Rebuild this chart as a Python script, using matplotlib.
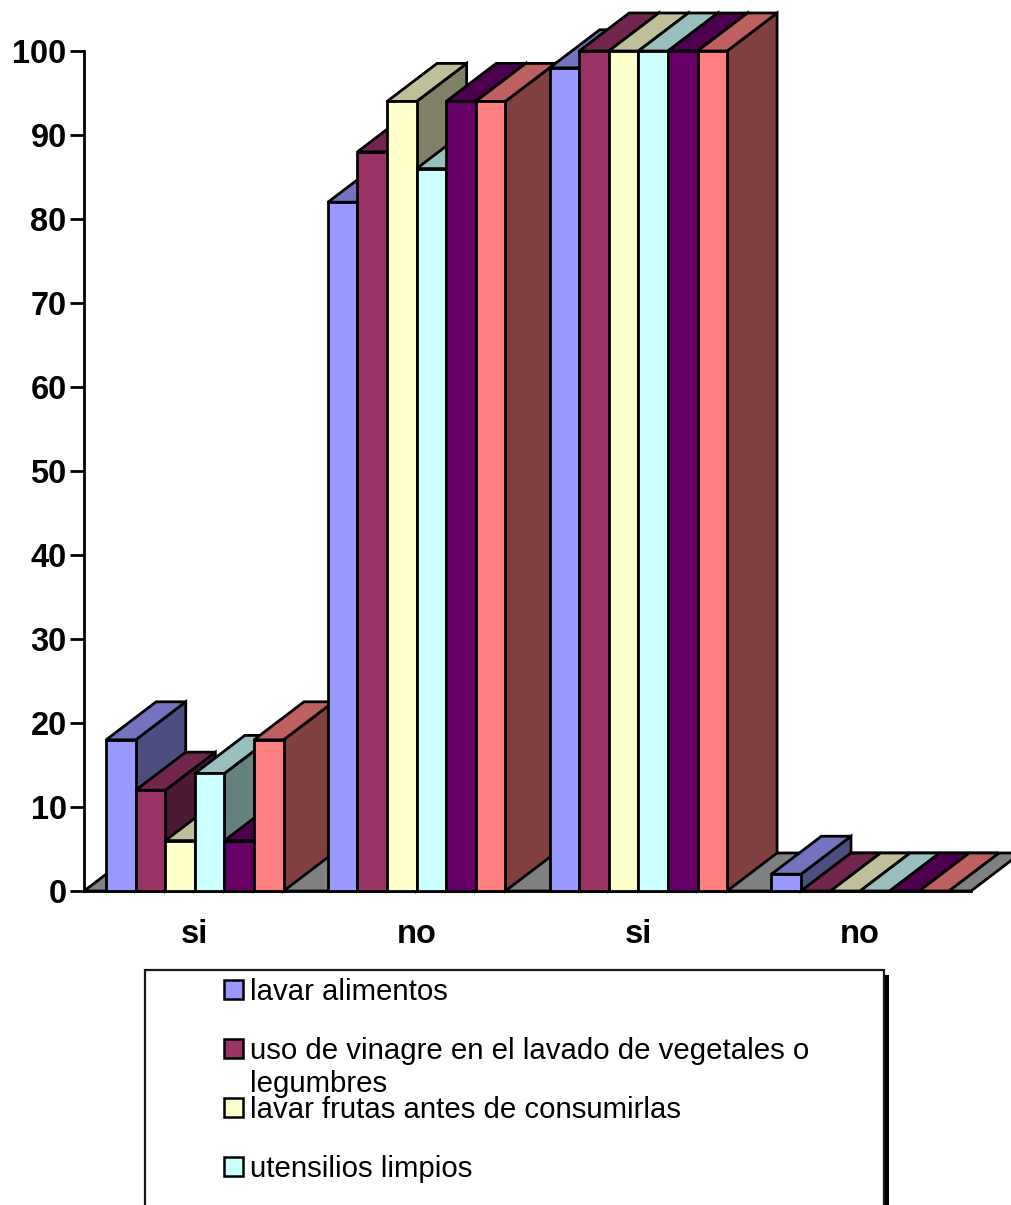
import matplotlib
matplotlib.use("Agg")
import matplotlib.pyplot as plt
from matplotlib.patches import Polygon, Rectangle
from matplotlib.colors import to_rgb

plt.rcParams['font.family'] = ['Liberation Sans', 'DejaVu Sans']

# Survey answers per group, one list per hygiene practice
categories = ["si", "no", "si", "no"]
lavar_alimentos = [18, 82, 98, 2]
uso_vinagre = [12, 88, 100, 0]
lavar_frutas = [6, 94, 100, 0]
utensilios = [14, 86, 100, 0]
serie_cinco = [6, 94, 100, 0]
serie_seis = [18, 94, 100, 0]
series = [lavar_alimentos, uso_vinagre, lavar_frutas, utensilios, serie_cinco, serie_seis]
colors = ["#9999FF", "#993366", "#FFFFCC", "#CCFFFF", "#660066", "#FF8080"]
y_ticks = list(range(0, 101, 10))

W, H = 1011, 1205
fig = plt.figure(figsize=(W / 100, H / 100), dpi=100, facecolor="white")
ax = fig.add_axes([84 / W, 1 - 891 / H, 887 / W, 840 / H])
ax.set_xlim(0, 4)
ax.set_ylim(0, 100)
ax.patch.set_visible(False)

LW = 2.0
DX = 50 / 221.75   # oblique depth, in group widths
DY = 38 / 8.4      # oblique depth, in axis units
BAR_W = 1 / 7.5
MARGIN = 0.75 * BAR_W


def shade(color, factor):
    return tuple(c * factor for c in to_rgb(color))


def add_poly(points, face, z):
    ax.add_patch(Polygon(points, closed=True, facecolor=face, edgecolor="black",
                         linewidth=LW, joinstyle="miter", clip_on=False, zorder=z))


# Grey floor running behind the bars
add_poly([(0, 0), (4, 0), (4 + DX, DY), (DX, DY)], "#808080", 3)

# Bars are painted from left to right so each one overlaps its neighbour's side
z = 4
for g in range(len(categories)):
    for s, values in enumerate(series):
        v = values[g]
        x0 = g + MARGIN + s * BAR_W
        x1 = x0 + BAR_W
        add_poly([(x1, 0), (x1 + DX, DY), (x1 + DX, v + DY), (x1, v)],
                 shade(colors[s], 0.5), z)
        add_poly([(x0, v), (x1, v), (x1 + DX, v + DY), (x0 + DX, v + DY)],
                 shade(colors[s], 0.75), z)
        if v > 0:
            add_poly([(x0, 0), (x1, 0), (x1, v), (x0, v)], colors[s], z)
        z += 1

for side in ("top", "right"):
    ax.spines[side].set_visible(False)
for side in ("left", "bottom"):
    ax.spines[side].set_linewidth(LW)

ax.set_yticks(y_ticks)
ax.set_yticklabels([str(t) for t in y_ticks], fontsize=23.5, fontweight="bold")
ax.tick_params(axis="y", length=10, width=LW, pad=2.5)
ax.set_xticks([g + 0.5 for g in range(len(categories))])
ax.set_xticklabels(categories, fontsize=23.5, fontweight="bold")
ax.tick_params(axis="x", length=0, pad=20)


def fx(px):
    return px / W


def fy(py):
    return 1 - py / H


# Legend frame with its drop shadow; the frame runs past the lower edge
fig.add_artist(Rectangle((fx(150), fy(1300)), fx(889 - 150), fy(975) - fy(1300),
                         transform=fig.transFigure, facecolor="black",
                         edgecolor="none", zorder=20))
fig.add_artist(Rectangle((fx(145), fy(1300)), fx(884 - 145), fy(970) - fy(1300),
                         transform=fig.transFigure, facecolor="white",
                         edgecolor="#1a1a1a", linewidth=1.6, zorder=21))

legend_rows = [
    ("lavar alimentos", colors[0], 999),
    ("uso de vinagre en el lavado de vegetales o\nlegumbres", colors[1], 1058),
    ("lavar frutas antes de consumirlas", colors[2], 1117),
    ("utensilios limpios", colors[3], 1176),
]
for label, color, base in legend_rows:
    fig.add_artist(Rectangle((fx(224), fy(base)), fx(19), fy(base - 19) - fy(base),
                             transform=fig.transFigure, facecolor=color,
                             edgecolor="black", linewidth=1.8, zorder=22))
    lines = label.split("\n")
    for i, line in enumerate(lines):
        fig.text(fx(250), fy(base + 1 + i * 33), line, fontsize=21.15, color="black",
                 ha="left", va="baseline", zorder=23)

fig.savefig("out.png", dpi=100, facecolor="white")
